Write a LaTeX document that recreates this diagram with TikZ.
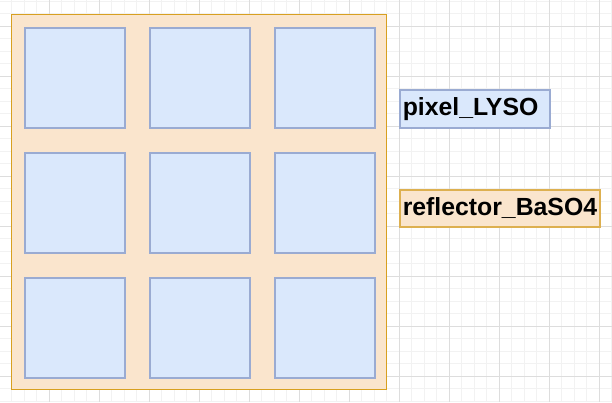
\documentclass[tikz,border=0pt]{standalone}
\usepackage{fontspec}
\setmainfont{Liberation Sans}
\definecolor{gridminor}{HTML}{F2F2F2}
\definecolor{gridmajor}{HTML}{DDDDDD}
\definecolor{reffill}{HTML}{FAE5CD}
\definecolor{refdraw}{HTML}{D8A020}
\definecolor{refdrawlt}{HTML}{DDB050}
\definecolor{pixfill}{HTML}{DAE8FC}
\definecolor{pixdraw}{HTML}{9AABD2}
\tikzset{
  pixbox/.style={draw=pixdraw, fill=pixfill, line width=1.6pt, minimum width=100pt, minimum height=100pt, inner sep=0pt, anchor=north west},
  reflbox/.style={draw=refdraw, fill=reffill, line width=1.2pt, minimum width=375pt, minimum height=375pt, inner sep=0pt, anchor=north west},
  labelbox/.style={line width=1.5pt, anchor=north west, inner xsep=3pt, inner ysep=0pt, align=left, font=\fontsize{24.8pt}{28pt}\selectfont\bfseries},
}
\begin{document}
\begin{tikzpicture}[x=1pt,y=-1pt]
\useasboundingbox (0,0) rectangle (612,402);
\fill[white] (0,0) rectangle (612,402);
% grid
\foreach \i in {0,...,49} {
  \draw[gridminor, line width=0.8pt] ({-1+12.5*\i},0) -- ({-1+12.5*\i},402);
}
\foreach \i in {0,...,33} {
  \draw[gridminor, line width=0.8pt] (0,{1+12.5*\i}) -- (612,{1+12.5*\i});
}
\foreach \i in {0,...,12} {
  \draw[gridmajor, line width=0.8pt] ({49+50*\i-50},0) -- ({49+50*\i-50},402);
}
\foreach \i in {0,...,8} {
  \draw[gridmajor, line width=0.8pt] (0,{26+50*\i}) -- (612,{26+50*\i});
}
% reflector block
\node[reflbox] (refl) at (11,14) {};
% pixels
\node[pixbox] (p11) at (24,27) {};
\node[pixbox] (p12) at (149,27) {};
\node[pixbox] (p13) at (274,27) {};
\node[pixbox] (p21) at (24,152) {};
\node[pixbox] (p22) at (149,152) {};
\node[pixbox] (p23) at (274,152) {};
\node[pixbox] (p31) at (24,277) {};
\node[pixbox] (p32) at (149,277) {};
\node[pixbox] (p33) at (274,277) {};
% legend
\node[labelbox, draw=pixdraw, fill=pixfill, text width=144pt, minimum height=38pt] (lpix) at (399,89) {pixel\_LYSO};
\node[labelbox, draw=refdrawlt, fill=reffill, text width=194pt, minimum height=37pt] (lref) at (399,189) {reflector\_BaSO4};
\end{tikzpicture}
\end{document}
